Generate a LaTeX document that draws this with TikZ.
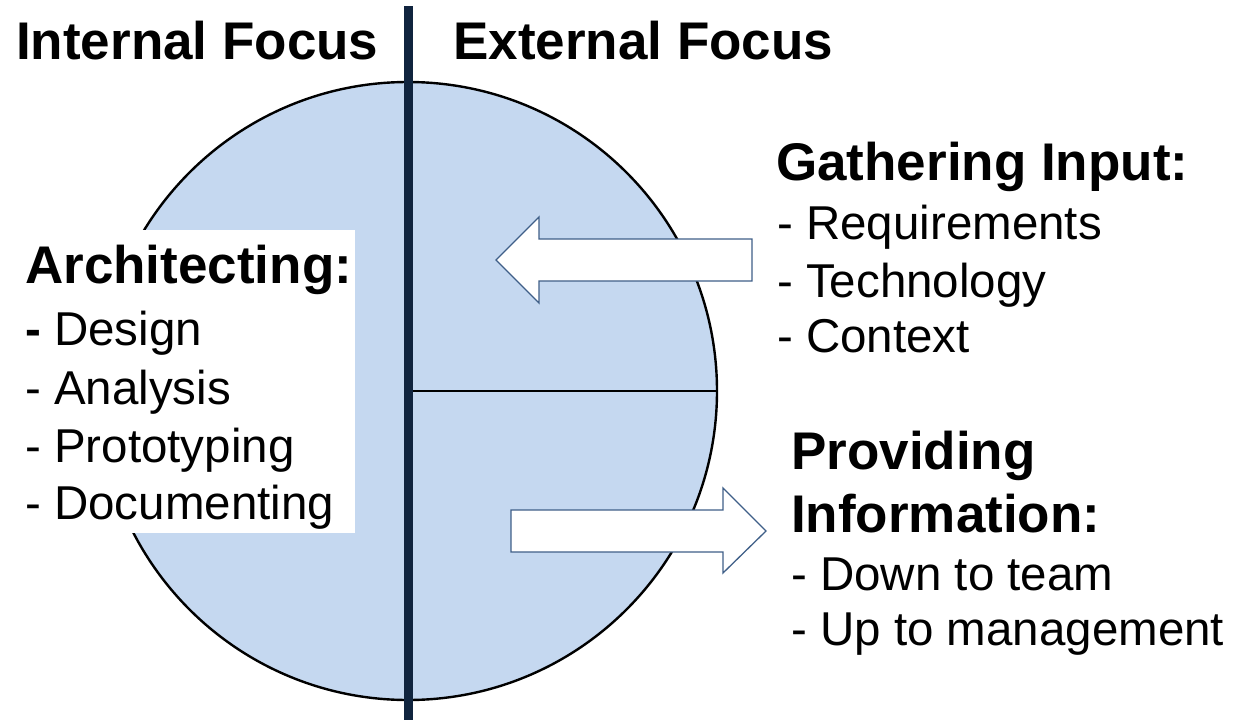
\documentclass[tikz,border=0pt]{standalone}
\usepackage{fontspec}
\setmainfont{Liberation Sans}
\begin{document}
\begin{tikzpicture}[x=1pt,y=-1pt,
  disc/.style={fill=discblue,draw=black,line width=2.4pt},
  divider/.style={draw=navy,line width=9pt},
  blockarrow/.style={fill=white,draw=arrowedge,line width=1.3pt,line join=miter},
  heading/.style={anchor=base west,inner sep=0pt,font=\fontsize{53}{60}\selectfont\bfseries},
  item/.style={anchor=base west,inner sep=0pt,font=\fontsize{47.5}{56}\selectfont}]
\definecolor{discblue}{HTML}{C5D8F0}
\definecolor{navy}{HTML}{10243E}
\definecolor{arrowedge}{HTML}{3F5F88}
\useasboundingbox (0,0) rectangle (1245,720);

% disc split into quadrants
\coordinate (c) at (408,391);
\draw[disc] (c) circle[radius=309];
\draw[black,line width=2.4pt] (c) -- (717,391);
\draw[divider] (408,6) -- (408,720);

% white panel behind the left list
\fill[white] (0,230) rectangle (355,533);

% incoming arrow (pointing left)
\draw[blockarrow] (496,260) -- (539,217) -- (539,239) -- (752,239) -- (752,281)
  -- (539,281) -- (539,303) -- cycle;
% outgoing arrow (pointing right)
\draw[blockarrow] (766,531) -- (723,488) -- (723,510) -- (511,510) -- (511,552)
  -- (723,552) -- (723,573) -- cycle;

% column titles
\node[heading] (internal) at (16,59) {Internal Focus};
\node[heading] (external) at (453,59) {External Focus};

% left list
\node[heading] (arch) at (25,283) {Architecting:};
\node[item] (design) at (25,345) {\textbf{-} Design};
\node[item] (analysis) at (25,404) {- Analysis};
\node[item] (proto) at (25,462) {- Prototyping};
\node[item] (docs) at (25,519) {- Documenting};

% upper right list
\node[heading] (gather) at (776,180) {Gathering Input:};
\node[item] (req) at (777,239) {- Requirements};
\node[item] (tech) at (777,297) {- Technology};
\node[item] (ctx) at (777,352) {- Context};

% lower right list
\node[heading] (prov) at (791,469) {Providing};
\node[heading] (info) at (791,532) {Information:};
\node[item] (down) at (791,590) {- Down to team};
\node[item] (up) at (791,645) {- Up to management};
\end{tikzpicture}
\end{document}
